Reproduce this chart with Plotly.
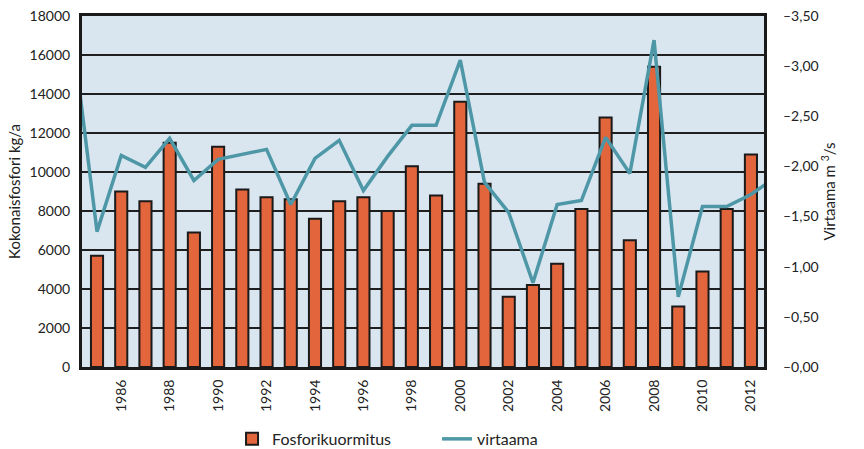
import plotly.graph_objects as go

years = list(range(1985, 2013))
fosfori = [5700, 9000, 8500, 11500, 6900, 11300, 9100, 8700, 8600, 7600,
           8500, 8700, 8000, 10300, 8800, 13600, 9400, 3600, 4200, 5300,
           8100, 12800, 6500, 15400, 3100, 4900, 8100, 10900]

flow_years = list(range(1984, 2014))
virtaama = [3.30, 1.35, 2.11, 1.99, 2.28, 1.86, 2.07, 2.12, 2.17, 1.62, 2.08,
            2.26, 1.76, 2.10, 2.41, 2.41, 3.06, 1.84, 1.54, 0.84, 1.62,
            1.66, 2.29, 1.93, 3.26, 0.70, 1.60, 1.60, 1.72, 1.89]

left_ticks = list(range(0, 18001, 2000))
right_ticks = [0, 0.5, 1.0, 1.5, 2.0, 2.5, 3.0, 3.5]
right_labels = ["–0,00", "–0,50", "–1,00", "–1,50", "–2,00", "–2,50", "–3,00", "–3,50"]
x_ticks = list(range(1986, 2013, 2))

FONT = "Lato"
TXT = "#222222"

fig = go.Figure()
fig.add_trace(go.Bar(
    x=years, y=fosfori, name="Fosforikuormitus", width=0.5,
    marker=dict(color="#e2653b", line=dict(color="#1a1a1a", width=2)),
))
fig.add_trace(go.Scatter(
    x=flow_years, y=virtaama, name="virtaama", yaxis="y2", mode="lines",
    line=dict(color="#4e97a7", width=3.5),
))

fig.update_layout(
    width=864, height=449,
    margin=dict(l=82, r=100, t=16, b=82, autoexpand=False),
    paper_bgcolor="white",
    plot_bgcolor="#d9e6f0",
    font=dict(family=FONT, size=14, color=TXT),
    showlegend=True,
    legend=dict(orientation="h", x=0.22, y=-0.205, xanchor="left", yanchor="middle",
                entrywidth=160, entrywidthmode="pixels",
                font=dict(size=16, color=TXT), bgcolor="rgba(0,0,0,0)"),
    bargap=0.5,
    xaxis=dict(
        range=[1984.38, 2012.54], tickmode="array", tickvals=x_ticks,
        ticktext=[str(y) for y in x_ticks], tickangle=-90, automargin=False,
        showgrid=False, zeroline=False,
        showline=True, linecolor="#1a1a1a", linewidth=3, mirror=True,
        ticks="", ticklabelstandoff=4, tickfont=dict(size=14),
    ),
    yaxis=dict(
        range=[0, 18000], tickmode="array", tickvals=left_ticks, automargin=False,
        tickformat="d", showgrid=True, gridcolor="#1f1f1f", gridwidth=2,
        zeroline=False, showline=True, linecolor="#1a1a1a", linewidth=3,
        mirror=True, ticks="", ticklabelstandoff=6, tickfont=dict(size=14),
        title=dict(text="Kokonaisfosfori kg/a", font=dict(size=15), standoff=6),
    ),
    yaxis2=dict(
        range=[0, 3.5], overlaying="y", side="right", tickmode="array", automargin=False,
        tickvals=right_ticks, ticktext=right_labels, showgrid=False,
        zeroline=False, ticks="", ticklabelstandoff=18, tickfont=dict(size=14),
        title=dict(text="Virtaama m <sup>3</sup>/s", font=dict(size=15), standoff=6),
    ),
)

fig.write_html("out.html", config={"displayModeBar": False},
               post_script="document.body.style.margin='0px';")
